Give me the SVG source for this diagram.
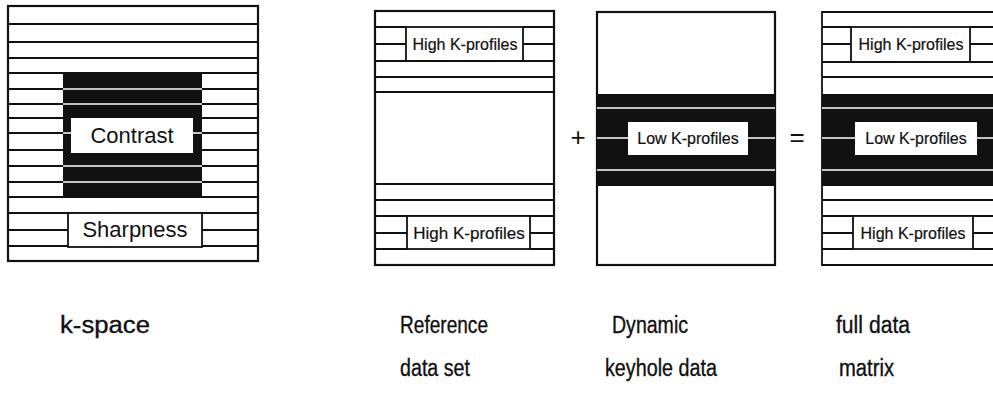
<svg xmlns="http://www.w3.org/2000/svg" width="993" height="394" viewBox="0 0 993 394">
  <style>
    .frame { fill: #fff; stroke: #111; stroke-width: 2.2; }
    .ln { stroke: #111; stroke-width: 1.8; fill: none; }
    .wl { stroke: #fff; stroke-width: 1.6; fill: none; }
    .blk { fill: #111; }
    .box { fill: #fff; stroke: #111; stroke-width: 1.8; }
    .wbox { fill: #fff; }
    .kt { font-family: "Liberation Sans", Arial, sans-serif; font-size: 16px; fill: #111; text-anchor: middle; stroke: #111; stroke-width: 0.2; }
    .bt { font-family: "Liberation Sans", Arial, sans-serif; font-size: 22px; fill: #111; text-anchor: middle; }
    .op { font-family: "Liberation Sans", Arial, sans-serif; font-size: 26px; fill: #111; text-anchor: middle; }
    .lbl { font-family: "Liberation Sans", Arial, sans-serif; font-size: 23px; fill: #111; stroke: #111; stroke-width: 0.35; }
  </style>

  <!-- k-space: contrast centre, sharpness periphery -->
  <g id="kspace">
    <rect class="frame" x="8" y="6" width="250" height="255"/>
    <path class="ln" d="M8 24H258M8 42H258M8 58H258M8 73H258M8 197H258M8 213H258"/>
    <path class="ln" d="M8 89H63M8 104H63M8 118H63M8 133H63M8 150H63M8 166H63M8 182H63"/>
    <path class="ln" d="M202 89H258M202 104H258M202 118H258M202 133H258M202 150H258M202 166H258M202 182H258"/>
    <rect class="blk" x="63" y="73" width="139" height="124"/>
    <path class="wl" d="M63 89H202M63 104H202M63 166H202M63 182H202M63 133H71M193 133H202"/>
    <rect class="wbox" x="71" y="118" width="122" height="35"/>
    <text class="bt" x="132" y="143">Contrast</text>
    <path class="ln" d="M8 230H68M8 246H68M202 230H258M202 246H258"/>
    <rect class="box" x="68" y="213" width="134" height="34"/>
    <text class="bt" x="135" y="237">Sharpness</text>
  </g>

  <!-- reference data set: high k-profiles only -->
  <g id="reference">
    <rect class="frame" x="375" y="11" width="179" height="254"/>
    <path class="ln" d="M375 27H406M375 44H406M523 27H554M523 44H554"/>
    <rect class="box" x="406" y="27" width="117" height="34"/>
    <text class="kt" x="465" y="50">High K-profiles</text>
    <path class="ln" d="M375 61H554M375 77H554M375 184H554M375 200H554M375 216H554"/>
    <path class="ln" stroke-width="2.4" d="M375 92H554"/>
    <path class="ln" d="M375 233H407M375 249H407M530 233H554M530 249H554"/>
    <rect class="box" x="407" y="216" width="123" height="33"/>
    <text class="kt" x="469" y="239" style="font-size:17px">High K-profiles</text>
  </g>

  <!-- dynamic keyhole data: low k-profiles only -->
  <g id="dynamic">
    <rect class="frame" x="597" y="12" width="178" height="253"/>
    <rect class="blk" x="597" y="94" width="178" height="92"/>
    <path class="wl" d="M597 108H775M597 170H775M597 138H628M748 138H775"/>
    <rect class="wbox" x="628" y="122" width="120" height="33"/>
    <text class="kt" x="688" y="144">Low K-profiles</text>
  </g>

  <!-- full data matrix: reference periphery + dynamic centre -->
  <g id="full">
    <path class="ln" stroke-width="2.2" d="M993 12H822V265H993"/>
    <path class="ln" d="M822 27H851M822 44H851M970 27H993M970 44H993"/>
    <rect class="box" x="851" y="27" width="119" height="35"/>
    <text class="kt" x="911" y="50">High K-profiles</text>
    <path class="ln" d="M822 62H993M822 77H993"/>
    <rect class="blk" x="822" y="94" width="171" height="92"/>
    <path class="wl" d="M822 108H993M822 170H993M822 138H855M977 138H993"/>
    <rect class="wbox" x="855" y="122" width="122" height="33"/>
    <text class="kt" x="916" y="144">Low K-profiles</text>
    <path class="ln" d="M822 200H993M822 216H993"/>
    <path class="ln" d="M822 233H853M822 249H853M973 233H993M973 249H993"/>
    <rect class="box" x="853" y="216" width="120" height="33"/>
    <text class="kt" x="913" y="239">High K-profiles</text>
  </g>

  <g id="operators">
    <text class="op" x="578" y="146">+</text>
    <text class="op" x="797" y="146">=</text>
  </g>

  <g id="labels">
    <text class="lbl" x="60" y="333" textLength="90" lengthAdjust="spacingAndGlyphs">k-space</text>
    <text class="lbl" x="400" y="333" textLength="88" lengthAdjust="spacingAndGlyphs">Reference</text>
    <text class="lbl" x="400" y="376" textLength="70" lengthAdjust="spacingAndGlyphs">data set</text>
    <text class="lbl" x="612" y="333" textLength="76" lengthAdjust="spacingAndGlyphs">Dynamic</text>
    <text class="lbl" x="605" y="376" textLength="112" lengthAdjust="spacingAndGlyphs">keyhole data</text>
    <text class="lbl" x="836" y="333" textLength="74" lengthAdjust="spacingAndGlyphs">full data</text>
    <text class="lbl" x="839" y="376" textLength="55" lengthAdjust="spacingAndGlyphs">matrix</text>
  </g>
</svg>
